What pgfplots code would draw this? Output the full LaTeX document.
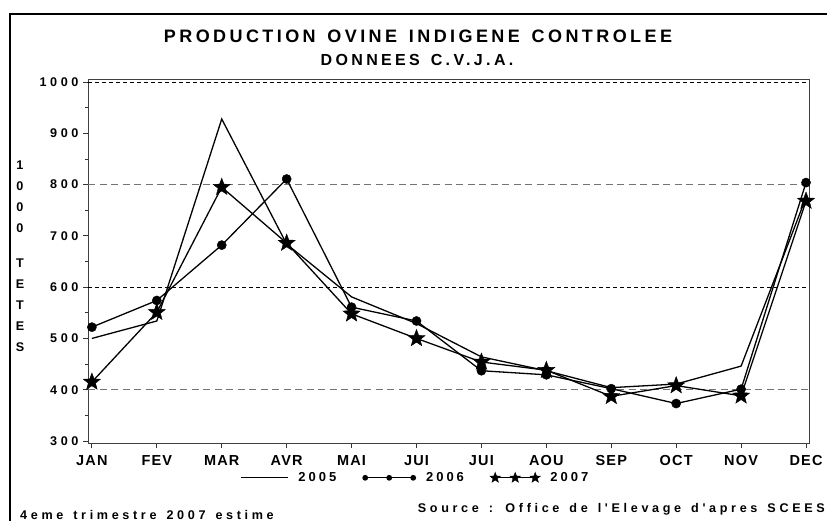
\documentclass[border=0pt]{standalone}
\usepackage{pgfplots}
\pgfplotsset{compat=1.18}
\usepackage{fontspec}
\setmainfont{Liberation Sans}
\newfontfamily\lsTitle[LetterSpace=19,WordSpace=1.4]{Liberation Sans}
\newfontfamily\lsSub[LetterSpace=21,WordSpace=1.4]{Liberation Sans}
\newfontfamily\lsTick[LetterSpace=28]{Liberation Sans}
\newfontfamily\lsMon[LetterSpace=8]{Liberation Sans}
\newfontfamily\lsLeg[LetterSpace=23]{Liberation Sans}
\newfontfamily\lsSrc[LetterSpace=29,WordSpace=1.4]{Liberation Sans}

% filled five-pointed star
\pgfdeclareplotmark{fstar}{%
  \pgfpathmoveto{\pgfpointpolar{90}{\pgfplotmarksize}}%
  \pgfpathlineto{\pgfpointpolar{126}{0.42\pgfplotmarksize}}%
  \pgfpathlineto{\pgfpointpolar{162}{\pgfplotmarksize}}%
  \pgfpathlineto{\pgfpointpolar{198}{0.42\pgfplotmarksize}}%
  \pgfpathlineto{\pgfpointpolar{234}{\pgfplotmarksize}}%
  \pgfpathlineto{\pgfpointpolar{270}{0.42\pgfplotmarksize}}%
  \pgfpathlineto{\pgfpointpolar{306}{\pgfplotmarksize}}%
  \pgfpathlineto{\pgfpointpolar{342}{0.42\pgfplotmarksize}}%
  \pgfpathlineto{\pgfpointpolar{18}{\pgfplotmarksize}}%
  \pgfpathlineto{\pgfpointpolar{54}{0.42\pgfplotmarksize}}%
  \pgfpathclose
  \pgfusepathqfillstroke}

\newcommand\legfont{\lsLeg\bfseries\fontsize{13}{14}\selectfont}

\begin{document}
\begin{tikzpicture}
\useasboundingbox (0pt,0pt) rectangle (827pt,-520pt);
\draw[line width=2.2pt] (10pt,-14pt) rectangle (845pt,-545pt);

\node[font=\lsTitle\bfseries\fontsize{18}{20}\selectfont] at (418pt,-36pt) {PRODUCTION OVINE INDIGENE CONTROLEE};
\node[font=\lsSub\bfseries\fontsize{16}{18}\selectfont] at (417pt,-60pt) {DONNEES C.V.J.A.};

% stacked y label
\node[align=center, inner sep=0pt, font=\bfseries\fontsize{12.6}{21}\selectfont] at (20pt,-256pt)
  {1\\0\\0\\0\\[14pt]T\\E\\T\\E\\S};

\node[anchor=base east, inner sep=0pt, font=\lsSrc\bfseries\fontsize{12.6}{14}\selectfont] at (825pt,-512.5pt)
  {Source : Office de l'Elevage d'apres SCEES};
\node[anchor=base west, inner sep=0pt, font=\lsSrc\bfseries\fontsize{12.6}{14}\selectfont] at (20pt,-519pt)
  {4eme trimestre 2007 estime};

\begin{axis}[
    at={(88pt,-443pt)}, anchor=south west,
    scale only axis,
    width=721pt, height=364pt,
    xmin=-0.06, xmax=11.046,
    ymin=296, ymax=1006,
    xtick={0,...,11},
    xticklabels={JAN,FEV,MAR,AVR,MAI,JUI,JUI,AOU,SEP,OCT,NOV,DEC},
    ytick={300,400,...,1000},
    minor y tick num=1,
    xtick pos=bottom, ytick pos=left,
    tick align=outside,
    major tick length=5pt, minor tick length=3pt,
    tick style={black!80, line width=0.8pt},
    axis line style={black!75, line width=1pt},
    /pgf/number format/assume math mode=true,
    /pgf/number format/1000 sep={},
    yticklabel style={inner sep=0pt, xshift=-4.5pt,
      font=\lsTick\bfseries\fontsize{12.6}{14}\selectfont},
    xticklabel style={inner sep=0pt, anchor=north, yshift=-7pt,
      font=\lsMon\bfseries\fontsize{14.5}{16}\selectfont},
    extra y ticks={600,1000},
    extra y tick labels={},
    extra y tick style={major tick length=0pt, grid=major,
      major grid style={black, line width=0.8pt, dash pattern=on 4pt off 3pt}},
    legend columns=3,
    legend style={at={(axis description cs:0.2108,-0.0953)}, anchor=west,
      draw=none, fill=none, inner sep=0pt,
      nodes={inner sep=0pt, font=\legfont},
      /tikz/every odd column/.append style={column sep=10pt},
      /tikz/every even column/.append style={column sep=26pt}},
  ]
  % grey grid lines at 400 and 800
  \draw[black!55, line width=1.2pt, dash pattern=on 7pt off 4.5pt]
    (axis cs:-0.06,400) -- (axis cs:11.046,400)
    (axis cs:-0.06,800) -- (axis cs:11.046,800);

  \addplot[black, line width=1.3pt, mark=none,
    legend image code/.code={\draw[black, line width=1.3pt] (0pt,0pt) -- (47pt,0pt);}]
    coordinates {(0,500) (1,534) (2,928) (3,684) (4,581) (5,529)
                 (6,464) (7,437) (8,404) (9,411) (10,446) (11,775)};
  \addlegendentry{\legfont 2005}

  \addplot[black, line width=1.3pt, mark=*, mark size=4.6pt,
    mark options={solid, fill=black, line width=0.4pt},
    legend image code/.code={
      \draw[black, line width=1.3pt] (0pt,0pt) -- (48pt,0pt);
      \fill[black] (0pt,0pt) circle (2.2pt) (24pt,0pt) circle (2.2pt) (48pt,0pt) circle (2.2pt);}]
    coordinates {(0,522) (1,574) (2,682) (3,811) (4,561) (5,534)
                 (6,437) (7,429) (8,402) (9,373) (10,401) (11,804)};
  \addlegendentry{\legfont 2006}

  \addplot[black, line width=1.3pt, mark=fstar, mark size=9pt,
    mark options={solid, fill=black, line width=0.4pt},
    legend image code/.code={
      \draw[black, line width=1.3pt] (0pt,0pt) -- (48pt,0pt);
      \path[fill=black, draw=black, line width=0.4pt] plot[mark=fstar, mark size=5.5pt, only marks]
        coordinates {(4pt,0pt) (24pt,0pt) (44pt,0pt)};}]
    coordinates {(0,415) (1,551) (2,795) (3,686) (4,548) (5,500)
                 (6,454) (7,438) (8,387) (9,408) (10,388) (11,768)};
  \addlegendentry{\legfont 2007}
\end{axis}
\end{tikzpicture}
\end{document}
